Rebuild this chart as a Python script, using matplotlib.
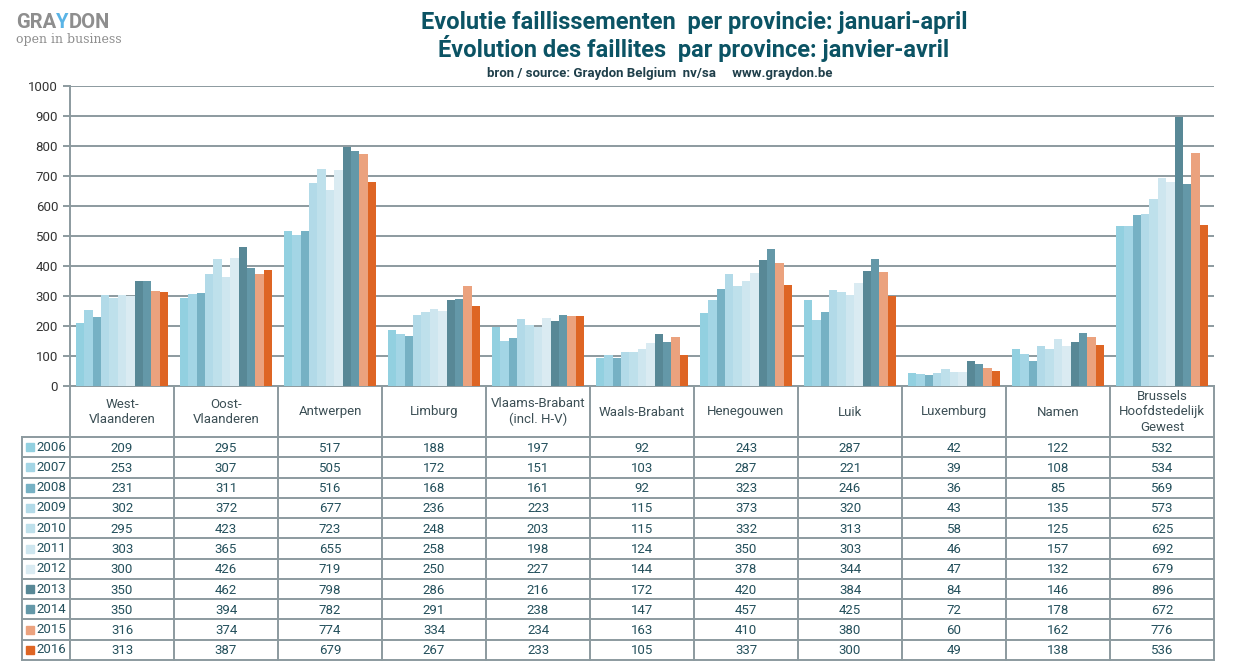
import numpy as np
import matplotlib.pyplot as plt
from matplotlib.patches import Rectangle

plt.rcParams['font.family'] = ['Roboto', 'DejaVu Sans']

provinces = ["West-\nVlaanderen", "Oost-\nVlaanderen", "Antwerpen", "Limburg",
             "Vlaams-Brabant\n(incl. H-V)", "Waals-Brabant", "Henegouwen", "Luik",
             "Luxemburg", "Namen", "Brussels\nHoofdstedelijk\nGewest"]
years = ["2006", "2007", "2008", "2009", "2010", "2011", "2012", "2013", "2014", "2015", "2016"]

v2006 = [209, 295, 517, 188, 197, 92, 243, 287, 42, 122, 532]
v2007 = [253, 307, 505, 172, 151, 103, 287, 221, 39, 108, 534]
v2008 = [231, 311, 516, 168, 161, 92, 323, 246, 36, 85, 569]
v2009 = [302, 372, 677, 236, 223, 115, 373, 320, 43, 135, 573]
v2010 = [295, 423, 723, 248, 203, 115, 332, 313, 58, 125, 625]
v2011 = [303, 365, 655, 258, 198, 124, 350, 303, 46, 157, 692]
v2012 = [300, 426, 719, 250, 227, 144, 378, 344, 47, 132, 679]
v2013 = [350, 462, 798, 286, 216, 172, 420, 384, 84, 146, 896]
v2014 = [350, 394, 782, 291, 238, 147, 457, 425, 72, 178, 672]
v2015 = [316, 374, 774, 334, 234, 163, 410, 380, 60, 162, 776]
v2016 = [313, 387, 679, 267, 233, 105, 337, 300, 49, 138, 536]
series = [v2006, v2007, v2008, v2009, v2010, v2011, v2012, v2013, v2014, v2015, v2016]

colors = ["#92D0E0", "#A3D5E5", "#76B1C4", "#B2DAE8", "#BEE0EB", "#CEE6EF",
          "#DAEBF2", "#588896", "#6498A8", "#EBA27E", "#DE6524"]

W, H = 1239, 667
GRID = "#8C9A9F"
TXT = "#24505C"

fig = plt.figure(figsize=(W / 100, H / 100), dpi=100)

# --- bar chart area (pixel layout taken from reference) ---
x0, x1, ytop, ybot = 70, 1214, 86, 386
ax = fig.add_axes([x0 / W, 1 - ybot / H, (x1 - x0) / W, (ybot - ytop) / H])
n = len(provinces)
bw = 0.081
x = np.arange(n)
for i, vals in enumerate(series):
    ax.bar(x - 5 * bw + i * bw, vals, width=bw, color=colors[i], zorder=3)
ax.set_xlim(-0.5, n - 0.5)
ax.set_ylim(0, 1000)
ax.set_yticks(range(0, 1001, 100))
ax.yaxis.grid(True, color=GRID, linewidth=1.4, zorder=0)
ax.set_xticks([])
for s in ["top", "right"]:
    ax.spines[s].set_visible(False)
for s in ["left", "bottom"]:
    ax.spines[s].set_color(GRID)
    ax.spines[s].set_linewidth(1.4)
ax.tick_params(axis="y", colors=GRID, labelcolor="#333333", labelsize=9.5, length=5, width=1.4)

# --- overlay in pixel coordinates for table, titles, logo ---
ov = fig.add_axes([0, 0, 1, 1], facecolor="none")
ov.set_xlim(0, W)
ov.set_ylim(H, 0)
ov.axis("off")

colw = (x1 - x0) / n
row_top, row_bot = 437, 660
rowh = (row_bot - row_top) / len(years)

# vertical lines
for k in range(n + 1):
    xx = x0 + k * colw
    ov.plot([xx, xx], [ybot, row_bot], color=GRID, lw=1.4)
ov.plot([22, 22], [row_top, row_bot], color=GRID, lw=1.4)
# horizontal lines
for r in range(len(years) + 1):
    yy = row_top + r * rowh
    ov.plot([22, x1], [yy, yy], color=GRID, lw=1.4)

# header labels
for k, name in enumerate(provinces):
    ov.text(x0 + (k + 0.5) * colw, 412, name, ha="center", va="center",
            fontsize=9.5, color="#3C4F55", linespacing=1.25)

# row labels and values
for r, yr in enumerate(years):
    yc = row_top + (r + 0.5) * rowh
    ov.add_patch(Rectangle((26, yc - 4), 8, 8, color=colors[r]))
    ov.text(36, yc, yr, ha="left", va="center", fontsize=9.5, color=TXT)
    for k in range(n):
        ov.text(x0 + (k + 0.5) * colw, yc + 1, str(series[r][k]), ha="center", va="center",
                fontsize=9.5, color=TXT)

# titles
title_c = "#0B5364"
narrow = ["Liberation Sans Narrow", "Roboto"]
ov.text(694, 22, "Evolutie faillissementen  per provincie: januari-april", ha="center", va="center",
        fontsize=17, fontweight="bold", color=title_c, family=narrow)
ov.text(694, 48, "Évolution des faillites  par province: janvier-avril", ha="center", va="center",
        fontsize=17, fontweight="bold", color=title_c, family=narrow)
ov.text(660, 73, "bron / source: Graydon Belgium  nv/sa     www.graydon.be", ha="center", va="center",
        fontsize=9.5, fontweight="bold", color="#1F3F4A", family=narrow)

# logo: GRAYDON with a blue Y
fig.canvas.draw()
r = fig.canvas.get_renderer()
xpos = 16
for part, col in [("GRA", "#8E8E8E"), ("Y", "#5AB4E6"), ("DON", "#8E8E8E")]:
    t = ov.text(xpos, 23, part, ha="left", va="center", fontsize=14.5, fontweight="bold", color=col)
    xpos += t.get_window_extent(renderer=r).width
ov.text(16, 40, "open in business", ha="left", va="center", fontsize=9, color="#8E8E8E",
        family=["DejaVu Serif"])

fig.savefig("out.png", dpi=100)
